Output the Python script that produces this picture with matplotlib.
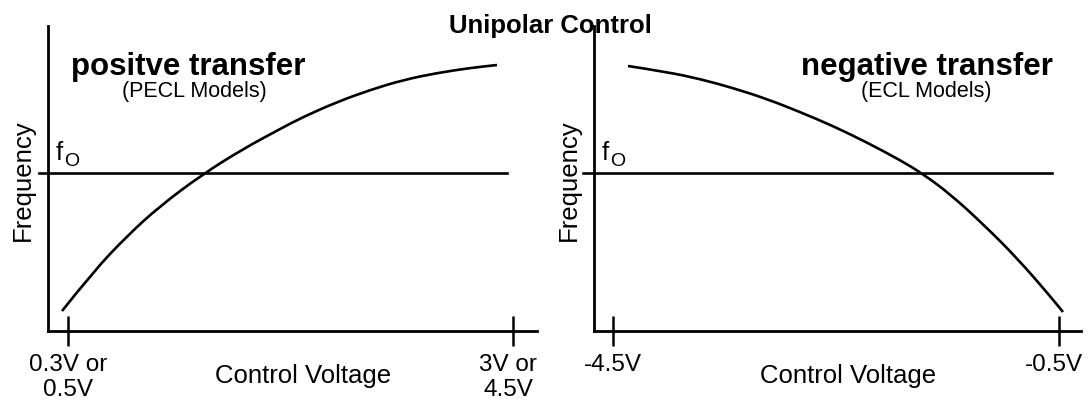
import matplotlib
matplotlib.use("Agg")
import matplotlib.pyplot as plt
from matplotlib.path import Path
from matplotlib.patches import PathPatch
from matplotlib.transforms import ScaledTranslation

plt.rcParams['font.family'] = ['Liberation Sans', 'DejaVu Sans']

W, H = 1088, 406

# ---- data (axis units: x from y-axis, y from x-axis) ----
pos_x = [14, 45, 79, 112, 155, 195, 232, 255, 289, 322, 355, 389, 422, 449]
pos_y = [20, 59, 95, 125, 157, 182, 202, 214, 229, 241, 251, 258, 263, 266]

neg_x = [34, 73, 106, 139, 173, 206, 239, 272, 306, 329, 356, 389, 423, 456, 469]
neg_y = [265, 259, 252, 243, 232, 219, 205, 189, 171, 157, 137, 107, 73, 35, 19]

f0_level = 158
pos_f0_span = [-9, 459]
neg_f0_span = [-11, 458]

pos_ticks = [20, 465]
pos_tick_labels = ["0.3V or\n0.5V", "3V or\n4.5V"]
neg_ticks = [19, 465]
neg_tick_labels = ["-4.5V", "-0.5V"]

title = "Unipolar Control"
pos_title, pos_sub = "positve transfer", "(PECL Models)"
neg_title, neg_sub = "negative transfer", "(ECL Models)"
xlabel = "Control Voltage"
ylabel = "Frequency"

fig = plt.figure(figsize=(W / 100, H / 100), dpi=100)


def fx(px):
    return px / W


def fy(py):
    return 1 - py / H


def make_ax(left_px, right_px):
    top_px, bot_px = 27, 332
    ax = fig.add_axes([fx(left_px), fy(bot_px), (right_px - left_px) / W, (bot_px - top_px) / H])
    ax.set_xlim(0, right_px - left_px)
    ax.set_ylim(0, bot_px - top_px)
    for s in ['top', 'right']:
        ax.spines[s].set_visible(False)
    for s in ['left', 'bottom']:
        ax.spines[s].set_linewidth(2.0)
    ax.set_yticks([])
    ax.tick_params(axis='x', direction='inout', length=21, width=1.8, pad=5,
                   labelsize=17.5)
    ax.patch.set_alpha(0)
    return ax


def smooth_curve(ax, xs, ys):
    pts = list(zip(xs, ys))
    verts = [pts[0]]
    codes = [Path.MOVETO]
    for i in range(1, len(pts) - 1):
        mid = ((pts[i][0] + pts[i + 1][0]) / 2, (pts[i][1] + pts[i + 1][1]) / 2)
        verts += [pts[i], mid]
        codes += [Path.CURVE3, Path.CURVE3]
    verts.append(pts[-1])
    codes.append(Path.LINETO)
    patch = PathPatch(Path(verts, codes), facecolor='none', edgecolor='black',
                      lw=1.9, clip_on=False, capstyle='butt')
    ax.add_patch(patch)


ax1 = make_ax(48, 537)
ax2 = make_ax(594, 1081)

# left panel
smooth_curve(ax1, pos_x, pos_y)
ax1.plot(pos_f0_span, [f0_level, f0_level], color='black', lw=1.9, clip_on=False)
ax1.set_xticks(pos_ticks)
ax1.set_xticklabels(pos_tick_labels, linespacing=1.2)

# right panel
smooth_curve(ax2, neg_x, neg_y)
ax2.plot(neg_f0_span, [f0_level, f0_level], color='black', lw=1.9, clip_on=False)
ax2.set_xticks(neg_ticks)
ax2.set_xticklabels(neg_tick_labels)

shift = ScaledTranslation(-5 / 100, 0, fig.dpi_scale_trans)
for ax in (ax1, ax2):
    lbl = ax.get_xticklabels()[-1]
    lbl.set_transform(lbl.get_transform() + shift)

# texts
fig.text(fx(550), fy(33), title, ha='center', va='baseline', fontsize=18.5, fontweight='bold')
fig.text(fx(71), fy(75), pos_title, ha='left', va='baseline', fontsize=22.5, fontweight='bold')
fig.text(fx(194), fy(97), pos_sub, ha='center', va='baseline', fontsize=15.5)
fig.text(fx(1053), fy(75), neg_title, ha='right', va='baseline', fontsize=22.5, fontweight='bold')
fig.text(fx(926), fy(97), neg_sub, ha='center', va='baseline', fontsize=15.5)

for cx in (303, 848):
    fig.text(fx(cx), fy(383), xlabel, ha='center', va='baseline', fontsize=18.5)
for cx in (23, 569):
    fig.text(fx(cx), fy(180), ylabel, ha='center', va='center', rotation=90, fontsize=18.5)

for x0 in (56, 602):
    fig.text(fx(x0), fy(160), "f", ha='left', va='baseline', fontsize=18.5)
    fig.text(fx(x0 + 8), fy(166), "O", ha='left', va='baseline', fontsize=14)

fig.savefig("out.png", dpi=100)
